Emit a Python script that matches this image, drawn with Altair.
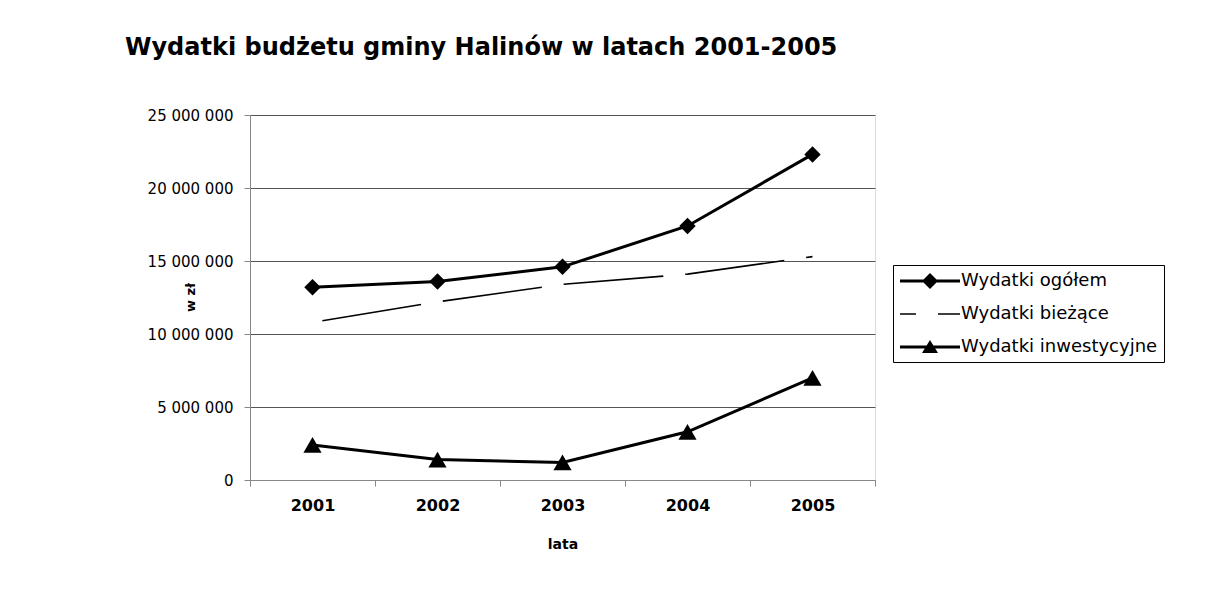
import altair as alt
import pandas as pd

# ---- data ----
years = [2001, 2002, 2003, 2004, 2005]
series = ["Wydatki ogółem", "Wydatki bieżące", "Wydatki inwestycyjne"]
ogolem = [13_200_000, 13_600_000, 14_600_000, 17_400_000, 22_300_000]
biezace = [10_800_000, 12_200_000, 13_400_000, 14_100_000, 15_300_000]
inwestycyjne = [2_400_000, 1_400_000, 1_200_000, 3_300_000, 7_000_000]
y_ticks = [0, 5_000_000, 10_000_000, 15_000_000, 20_000_000, 25_000_000]

rows = []
for name, vals in zip(series, [ogolem, biezace, inwestycyjne]):
    for yr, v in zip(years, vals):
        rows.append({"rok": yr, "seria": name, "wartosc": v})
df = pd.DataFrame(rows)

# category boundaries (ticks) and centres (labels)
x_values = sorted(years + [yr - 0.5 for yr in years] + [years[-1] + 0.5])

FONT = "DejaVu Sans"

x_enc = alt.X(
    "rok:Q",
    scale=alt.Scale(domain=[years[0] - 0.5, years[-1] + 0.5], nice=False, zero=False),
    axis=alt.Axis(
        values=x_values,
        labelExpr="floor(datum.value) == datum.value ? format(datum.value, 'd') : ''",
        labelOverlap=False,
        tickOpacity={"condition": {"test": "floor(datum.value) == datum.value", "value": 0}, "value": 1},
        tickSize=6,
        labelPadding=11,
        labelFont=FONT,
        labelFontSize=16,
        labelFontWeight="bold",
        labelColor="black",
        title="lata",
        titleFont=FONT,
        titleFontSize=14,
        titleFontWeight="bold",
        titlePadding=24,
        grid=False,
    ),
)

y_enc = alt.Y(
    "wartosc:Q",
    scale=alt.Scale(domain=[0, 25_000_000], nice=False),
    axis=alt.Axis(
        values=y_ticks,
        labelExpr="replace(format(datum.value, ','), regexp(',', 'g'), ' ')",
        tickSize=6,
        labelPadding=11,
        labelFont=FONT,
        labelFontSize=15,
        title="w zł",
        titleFont=FONT,
        titleFontSize=13,
        titleFontWeight="bold",
        titleAngle=270,
        titleX=-60,
        titleY=182,
        titleAlign="center",
        titleBaseline="middle",
        grid=True,
        gridColor="#555555",
        gridOpacity=1,
        gridWidth=1,
    ),
)

base = alt.Chart(df)

solid_lines = (
    base.transform_filter(alt.FieldOneOfPredicate(field="seria", oneOf=[series[0], series[2]]))
    .mark_line(color="black", strokeWidth=3)
    .encode(x=x_enc, y=y_enc, detail="seria:N")
)

dashed_line = (
    base.transform_filter(alt.FieldEqualPredicate(field="seria", equal=series[1]))
    .mark_line(color="black", strokeWidth=1.6, strokeDash=[100, 22], strokeDashOffset=112)
    .encode(x=x_enc, y=y_enc)
)

diamonds = (
    base.transform_filter(alt.FieldEqualPredicate(field="seria", equal=series[0]))
    .mark_point(filled=True, color="black", opacity=1, shape="diamond", size=270)
    .encode(x=x_enc, y=y_enc)
)

triangles = (
    base.transform_filter(alt.FieldEqualPredicate(field="seria", equal=series[2]))
    .mark_point(filled=True, color="black", opacity=1, shape="triangle-up", size=330)
    .encode(x=x_enc, y=y_enc)
)

legend_paths = [
    "M-3,-0.15L3,-0.15L3,0.15L-3,0.15Z M0,-0.8L0.8,0L0,0.8L-0.8,0Z",
    "M-3,-0.08L-1.4,-0.08L-1.4,0.08L-3,0.08Z M0.8,-0.08L3,-0.08L3,0.08L0.8,0.08Z",
    "M-3,-0.15L3,-0.15L3,0.15L-3,0.15Z M0,-0.7L0.8,0.6L-0.8,0.6Z",
]

legend_layer = (
    base.transform_filter("false")
    .mark_point(filled=True, color="black")
    .encode(
        x=x_enc,
        y=y_enc,
        shape=alt.Shape(
            "seria:N",
            scale=alt.Scale(domain=series, range=legend_paths),
            legend=alt.Legend(
                title=None,
                orient="none",
                legendX=643,
                legendY=150,
                symbolSize=400,
                symbolFillColor="black",
                symbolStrokeWidth=0,
                symbolOpacity=1,
                symbolOffset=21,
                labelOffset=21,
                labelFont=FONT,
                labelFontSize=18,
                labelColor="black",
                labelLimit=400,
                rowPadding=14,
                strokeColor="black",
                fillColor="white",
                padding=6,
            ),
        ),
    )
)

chart = (
    alt.layer(solid_lines, dashed_line, diamonds, triangles, legend_layer)
    .properties(
        width=625,
        height=365,
        autosize=alt.AutoSizeParams(type="none"),
        padding={"left": 242, "top": 107, "right": 320, "bottom": 108},
        title=alt.TitleParams(
            text="Wydatki budżetu gminy Halinów w latach 2001-2005",
            anchor="start",
            frame="group",
            dx=-125,
            offset=48,
            font=FONT,
            fontSize=24,
            fontWeight="bold",
            color="black",
        ),
    )
    .configure_view(stroke="#888888", strokeDash=[2, 2], strokeWidth=1)
    .configure_axis(
        domainColor="black",
        tickColor="black",
        labelColor="black",
        titleColor="black",
    )
    .configure(background="white")
)

chart.save("out.html", embed_options={"renderer": "svg", "actions": False})
